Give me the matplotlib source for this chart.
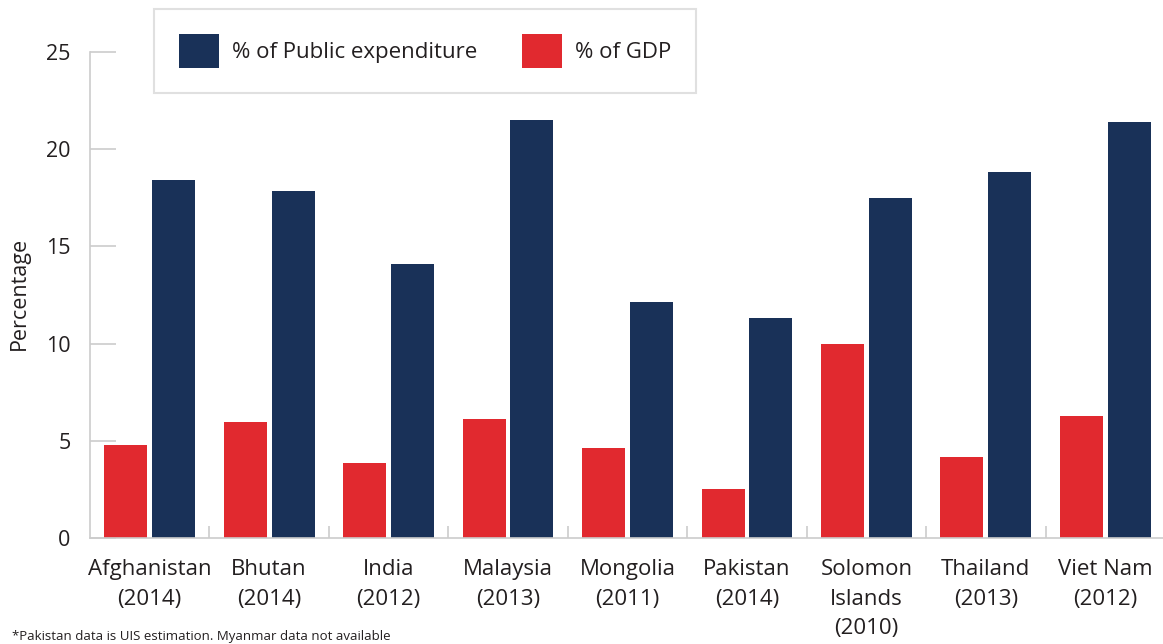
import numpy as np
from matplotlib import pyplot as plt
from matplotlib.ticker import FixedLocator

plt.rcParams['font.family'] = ['Open Sans', 'DejaVu Sans']

countries = ['Afghanistan\n(2014)', 'Bhutan\n(2014)', 'India\n(2012)', 'Malaysia\n(2013)',
             'Mongolia\n(2011)', 'Pakistan\n(2014)', 'Solomon\nIslands\n(2010)',
             'Thailand\n(2013)', 'Viet Nam\n(2012)']
pct_gdp = [4.8, 5.95, 3.85, 6.1, 4.65, 2.5, 10.0, 4.15, 6.3]
pct_public = [18.4, 17.85, 14.1, 21.5, 12.15, 11.3, 17.5, 18.85, 21.4]
yticks = [0, 5, 10, 15, 20, 25]

navy = '#193158'
red = '#e1292f'
grey = '#cccccc'
text_col = '#231f20'

fig = plt.figure(figsize=(11.63, 6.44), dpi=100)
ax = fig.add_axes([90 / 1163, 106 / 644, 1075 / 1163, 538 / 644])

x = np.arange(len(countries))
w = 0.36
ax.bar(x + 0.2, pct_public, width=w, color=navy, label='% of Public expenditure', zorder=2)
ax.bar(x - 0.2, pct_gdp, width=w, color=red, label='% of GDP', zorder=2)

ax.set_xlim(-0.5, len(countries) - 0.5)
ax.set_ylim(0, 538 / 19.44)

for s in ['top', 'right']:
  ax.spines[s].set_visible(False)
ax.spines['left'].set_bounds(0, 25)
for s in ['left', 'bottom']:
  ax.spines[s].set_color(grey)
  ax.spines[s].set_linewidth(1.2)

ax.set_yticks(yticks)
ax.tick_params(axis='y', direction='in', length=19, width=1.2, color=grey,
               labelsize=15.5, labelcolor=text_col, pad=14)

ax.set_xticks(x)
ax.set_xticklabels(countries, linespacing=1.55)
ax.xaxis.set_minor_locator(FixedLocator(x[:-1] + 0.5))
ax.tick_params(axis='x', which='major', length=0, labelsize=16, labelcolor=text_col, pad=15)
ax.tick_params(axis='x', which='minor', direction='in', length=9, width=1.2, color=grey)

ax.set_ylabel('Percentage', fontsize=15.5, color=text_col)
ax.yaxis.set_label_coords(-0.056, (538 - 293) / 538)

leg = fig.legend(loc='center', bbox_to_anchor=(425 / 1163, 1 - 51 / 644), ncol=2,
                 fontsize=16, frameon=True, fancybox=False,
                 handlelength=1.8, handleheight=2.0, handletextpad=0.6,
                 columnspacing=2.0, borderpad=1.1, borderaxespad=0)
leg.get_frame().set_edgecolor('#d9d9d9')
leg.get_frame().set_linewidth(1.5)
for t in leg.get_texts():
  t.set_color(text_col)

fig.text(12 / 1163, 1 / 644, '*Pakistan data is UIS estimation. Myanmar data not available',
         fontsize=9.5, color=text_col, va='bottom', ha='left')

fig.savefig('out.png', dpi=100)
